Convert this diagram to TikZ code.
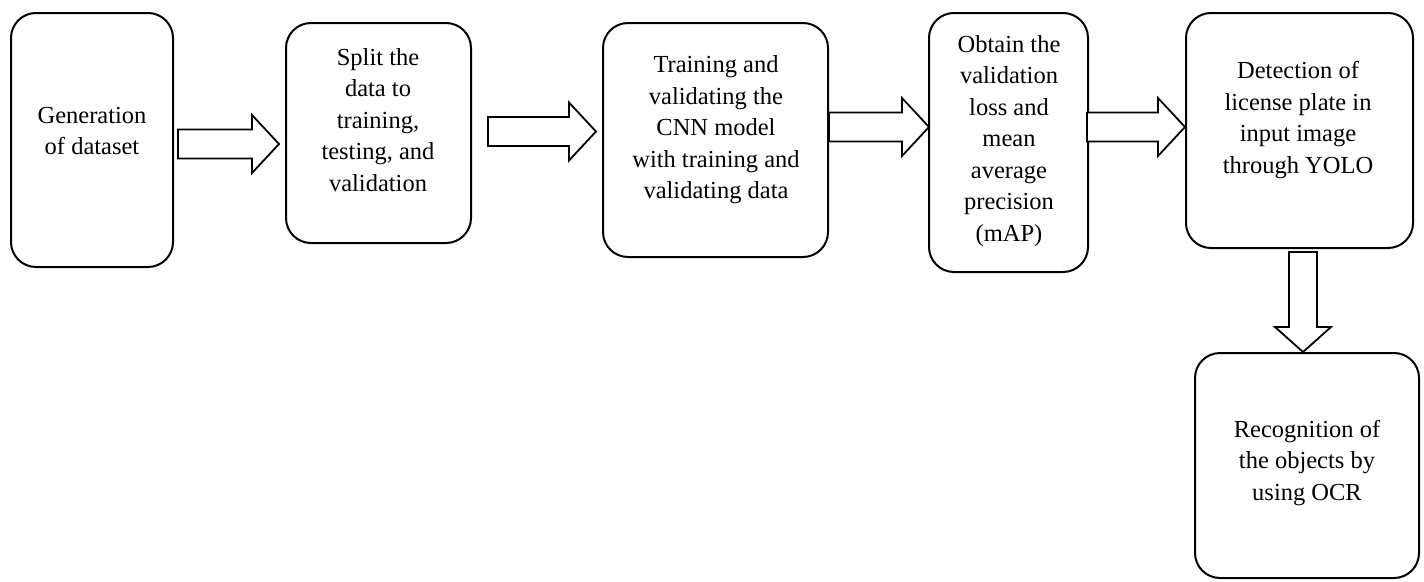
\documentclass[tikz,border=0pt]{standalone}
\usepackage{fontspec}
\setmainfont{Liberation Serif}
\usetikzlibrary{calc}
\tikzset{
  box/.style={draw=black, line width=2pt, rounded corners=25pt, fill=white, inner sep=0pt},
  txt/.style={align=center, font=\fontsize{24.5}{31.5}\selectfont, inner sep=0pt},
  blk/.style={draw=black, line width=1.8pt, fill=white, line join=miter}
}
% horizontal block arrow: x1, x2 (tip), y centre
\newcommand\harrowblk[3]{%
  \draw[blk] (#1,#3-14.5) -- (#2-27,#3-14.5) -- (#2-27,#3-29) -- (#2,#3)
    -- (#2-27,#3+29) -- (#2-27,#3+14.5) -- (#1,#3+14.5) -- cycle;}
\begin{document}
\begin{tikzpicture}[x=1pt,y=-1pt]
\useasboundingbox (0,0) rectangle (1424,581);
\fill[white] (0,0) rectangle (1424,581);

\node[box, minimum width=162pt, minimum height=254pt] (b1) at (92,140) {};
\node[box, minimum width=185pt, minimum height=220pt] (b2) at (378.5,133) {};
\node[box, minimum width=225pt, minimum height=234pt] (b3) at (715.5,140) {};
\node[box, minimum width=159pt, minimum height=259pt] (b4) at (1008.5,142.5) {};
\node[box, minimum width=227pt, minimum height=235pt] (b5) at (1299.5,130.5) {};
\node[box, minimum width=224pt, minimum height=225pt] (b6) at (1307,465.5) {};

\node[txt] (t1) at (92,131) {Generation\\of dataset};
\node[txt] (t2) at (378,120) {Split the\\data to\\training,\\testing, and\\validation};
\node[txt] (t3) at (716,130) {Training and\\validating the\\CNN model\\with training and\\validating data};
\node[txt] (t4) at (1009,141) {Obtain the\\validation\\loss and\\mean\\average\\precision\\(mAP)};
\node[txt] (t5) at (1298,120) {Detection of\\license plate in\\input image\\through YOLO};
\node[txt] (t6) at (1307,463) {Recognition of\\the objects by\\using OCR};

% block arrows between boxes
\harrowblk{178}{279}{144}
\harrowblk{488}{596}{131.5}
\harrowblk{829}{929}{127}
\harrowblk{1087}{1185}{127}
% down arrow from b5 to b6
\draw[blk] ($(b5.south)+(-10.5,3)$) -- (1289,327) -- (1275,327)
  -- (b6.north -| 1303,0) -- (1331,327) -- (1317,327) -- ($(b5.south)+(17.5,3)$) -- cycle;
\end{tikzpicture}
\end{document}
